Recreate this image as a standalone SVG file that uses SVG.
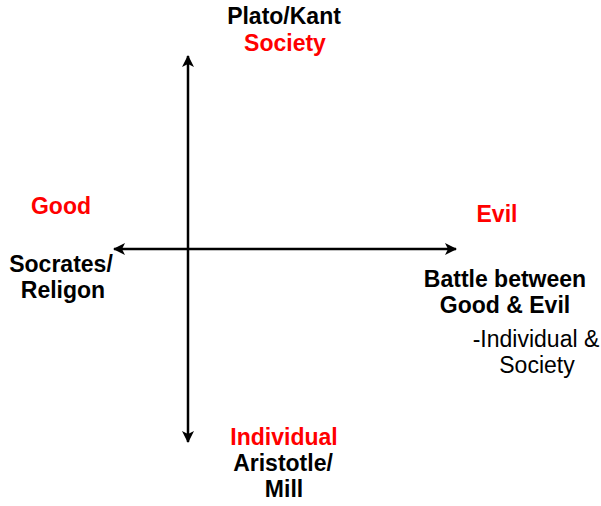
<svg xmlns="http://www.w3.org/2000/svg" width="601" height="506" viewBox="0 0 601 506">
<style>
text{font-family:"Liberation Sans",Arial,sans-serif;font-size:23px;text-anchor:middle}
.b{font-weight:bold;fill:#000}
.r{font-weight:bold;fill:#ff0000}
.n{fill:#000}
.ax{stroke:#000;stroke-width:2.5;fill:none}
</style>
<defs>
<marker id="ah" viewBox="0 0 12 12" refX="11" refY="6" markerWidth="12" markerHeight="12" markerUnits="userSpaceOnUse" orient="auto">
<path d="M0,0 L12,6 L0,12 L3,6 Z" fill="#000"/>
</marker>
</defs>
<g id="connectors">
<line class="ax" x1="188" y1="249" x2="188" y2="56" marker-end="url(#ah)"/>
<line class="ax" x1="188" y1="249" x2="188" y2="442" marker-end="url(#ah)"/>
<line class="ax" x1="188" y1="249" x2="114" y2="249" marker-end="url(#ah)"/>
<line class="ax" x1="188" y1="249" x2="456" y2="249" marker-end="url(#ah)"/>
</g>
<g id="top">
<text class="b" x="284" y="24">Plato/Kant</text>
<text class="r" x="285" y="51">Society</text>
</g>
<g id="left">
<text class="r" x="61" y="214">Good</text>
<text class="b" x="61" y="272">Socrates/</text>
<text class="b" x="63" y="298">Religon</text>
</g>
<g id="right">
<text class="r" x="497" y="222">Evil</text>
<text class="b" x="505" y="287">Battle between</text>
<text class="b" x="505" y="313">Good &amp; Evil</text>
<text class="n" x="536" y="347">-Individual &amp;</text>
<text class="n" x="537" y="373">Society</text>
</g>
<g id="bottom">
<text class="r" x="284" y="445">Individual</text>
<text class="b" x="283" y="471">Aristotle/</text>
<text class="b" x="284" y="497">Mill</text>
</g>
</svg>
